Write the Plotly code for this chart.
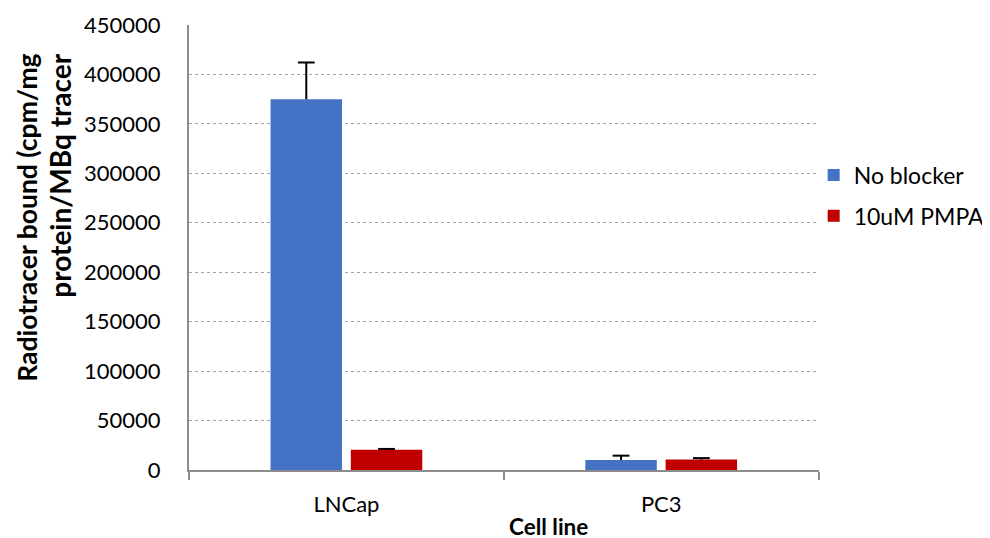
import plotly.graph_objects as go

categories = ["LNCap", "PC3"]
no_blocker = [375000, 10000]
no_blocker_err = [37000, 4500]
pmpa = [20500, 10500]
pmpa_err = [800, 1500]
y_ticks = [0, 50000, 100000, 150000, 200000, 250000, 300000, 350000, 400000, 450000]

FONT = "Lato"
BLUE = "#4472C4"
RED = "#C00000"
AXIS = "#8c8c8c"

fig = go.Figure()
for name, vals, errs, col, grp in [("No blocker", no_blocker, no_blocker_err, BLUE, "a"),
                                   ("10uM PMPA", pmpa, pmpa_err, RED, "b")]:
    fig.add_trace(go.Bar(
        x=categories, y=vals, name=name, legendgroup=grp,
        marker=dict(color=col, line=dict(width=0)),
        error_y=dict(type="data", array=errs, arrayminus=[0] * len(errs), symmetric=False,
                     color="black", thickness=2, width=0),
    ))
for vals, errs, grp in [(no_blocker, no_blocker_err, "a"), (pmpa, pmpa_err, "b")]:
    fig.add_trace(go.Scatter(
        x=categories, y=[v + e for v, e in zip(vals, errs)], mode="markers",
        legendgroup=grp, showlegend=False, hoverinfo="skip",
        marker=dict(symbol="line-ew", size=12, color="black",
                    line=dict(width=2, color="black")),
    ))

# The page body adds an 8px offset, so the figure is 8px smaller and margins shifted.
# The plot area uses only part of the paper width so the legend fits without pushing margins.
fig.update_layout(
    width=982, height=530,
    margin=dict(l=181, r=0, t=17, b=68),
    paper_bgcolor="white", plot_bgcolor="white",
    barmode="group", bargap=0.49, bargroupgap=0.11,
    scattermode="group", scattergap=0.49,
    font=dict(family=FONT, size=22, color="black"),
    legend=dict(x=0.7828, y=0.617, xanchor="left", yanchor="middle",
                font=dict(size=23), tracegroupgap=8, bgcolor="rgba(0,0,0,0)"),
    showlegend=True,
)
fig.update_xaxes(
    automargin=False, domain=[0, 0.789],
    showline=True, linecolor=AXIS, linewidth=2,
    ticks="outside", tickson="boundaries", ticklen=8, tickcolor=AXIS, tickwidth=2,
    showgrid=False, ticklabelstandoff=14,
)
fig.update_yaxes(
    automargin=False,
    range=[0, 450000], tickvals=y_ticks, ticktext=[str(v) for v in y_ticks],
    showline=True, linecolor=AXIS, linewidth=2,
    showgrid=True, gridcolor="#a6a6a6", griddash="dot", gridwidth=1,
    zeroline=False, ticks="", ticklabelstandoff=22,
)
fig.add_annotation(
    text="<b>Cell line</b>", xref="paper", yref="paper", x=0.4501, y=-0.126,
    xanchor="center", yanchor="middle", showarrow=False, font=dict(size=22.5, family=FONT),
)
fig.add_annotation(
    text="<b>Radiotracer bound (cpm/mg</b>", xref="paper", yref="paper",
    x=-0.2022, y=0.939, xanchor="center", yanchor="top",
    textangle=-90, showarrow=False, font=dict(size=26.5, family=FONT),
)
fig.add_annotation(
    text="<b>protein/MBq tracer</b>", xref="paper", yref="paper",
    x=-0.1610, y=0.939, xanchor="center", yanchor="top",
    textangle=-90, showarrow=False, font=dict(size=28, family=FONT),
)
fig.write_html("out.html")
